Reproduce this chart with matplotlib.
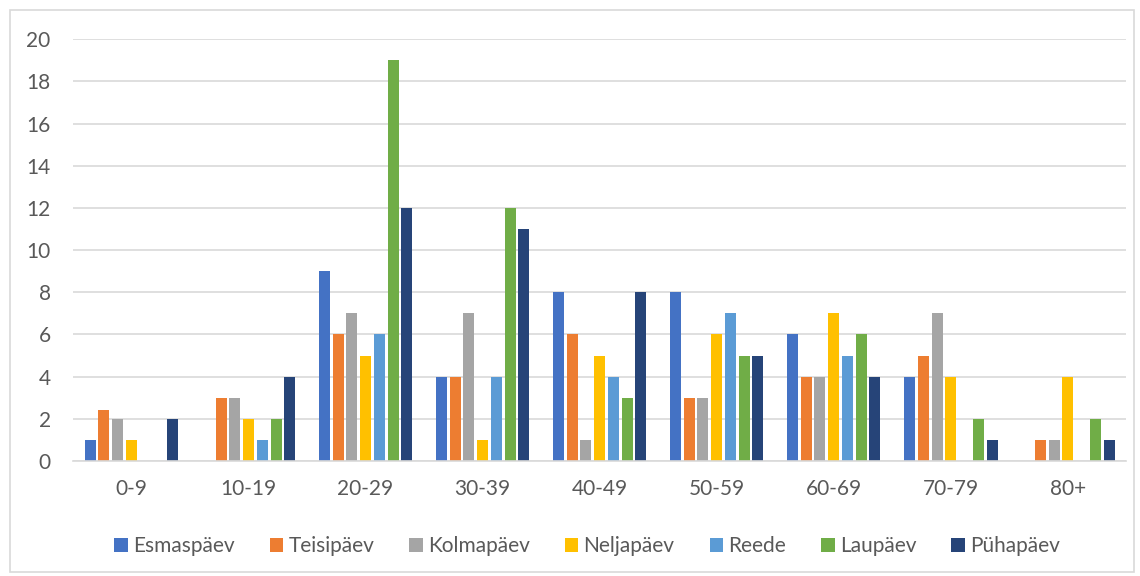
import matplotlib
matplotlib.use("Agg")
import matplotlib.pyplot as plt
from matplotlib.patches import Rectangle
import numpy as np

plt.rcParams['font.family'] = ['Lato', 'DejaVu Sans']

categories = ["0-9", "10-19", "20-29", "30-39", "40-49", "50-59", "60-69", "70-79", "80+"]
series_names = ["Esmaspäev", "Teisipäev", "Kolmapäev", "Neljapäev", "Reede", "Laupäev", "Pühapäev"]
esmaspaev = [1, 0, 9, 4, 8, 8, 6, 4, 0]
teisipaev = [2.4, 3, 6, 4, 6, 3, 4, 5, 1]
kolmapaev = [2, 3, 7, 7, 1, 3, 4, 7, 1]
neljapaev = [1, 2, 5, 1, 5, 6, 7, 4, 4]
reede = [0, 1, 6, 4, 4, 7, 5, 0, 0]
laupaev = [0, 2, 19, 12, 3, 5, 6, 2, 2]
puhapaev = [2, 4, 12, 11, 8, 5, 4, 1, 1]
series_values = [esmaspaev, teisipaev, kolmapaev, neljapaev, reede, laupaev, puhapaev]
colors = ["#4472C4", "#ED7D31", "#A5A5A5", "#FFC000", "#5B9BD5", "#70AD47", "#264478"]

fig = plt.figure(figsize=(11.4, 5.76), dpi=100)
ax = fig.add_axes([0.064, 0.1997, 0.924, 0.7323])

x = np.arange(len(categories))
pitch = 0.1175
width = 0.094
for i, (name, vals, col) in enumerate(zip(series_names, series_values, colors)):
    offs = (i - 3) * pitch
    ax.bar(x + offs, vals, width=width, color=col, label=name, zorder=3)

ax.set_xlim(-0.5, len(categories) - 0.5)
ax.set_ylim(0, 20)
ax.set_yticks(np.arange(0, 21, 2))
ax.set_xticks(x)
ax.set_xticklabels(categories)
ax.grid(axis='y', color='#D9D9D9', linewidth=1.2, zorder=0)
for s in ['top', 'right', 'left']:
    ax.spines[s].set_visible(False)
ax.spines['bottom'].set_color('#D9D9D9')
ax.spines['bottom'].set_linewidth(1.2)
ax.spines['bottom'].set_zorder(4)
ax.tick_params(axis='both', length=0, labelsize=15, colors='#595959')
ax.tick_params(axis='y', pad=16)
ax.tick_params(axis='x', pad=13)

leg = fig.legend(loc='center', bbox_to_anchor=(0.515, 0.052), ncol=7, frameon=False,
                 fontsize=15, handlelength=0.65, handleheight=0.65, handletextpad=0.25,
                 columnspacing=1.68, labelcolor='#595959')

fig.patches.append(Rectangle((10 / 1140, 4 / 576), 1124 / 1140, 562 / 576,
                             transform=fig.transFigure, fill=False,
                             edgecolor='#D9D9D9', linewidth=1.2))

fig.savefig("out.png", dpi=100)
